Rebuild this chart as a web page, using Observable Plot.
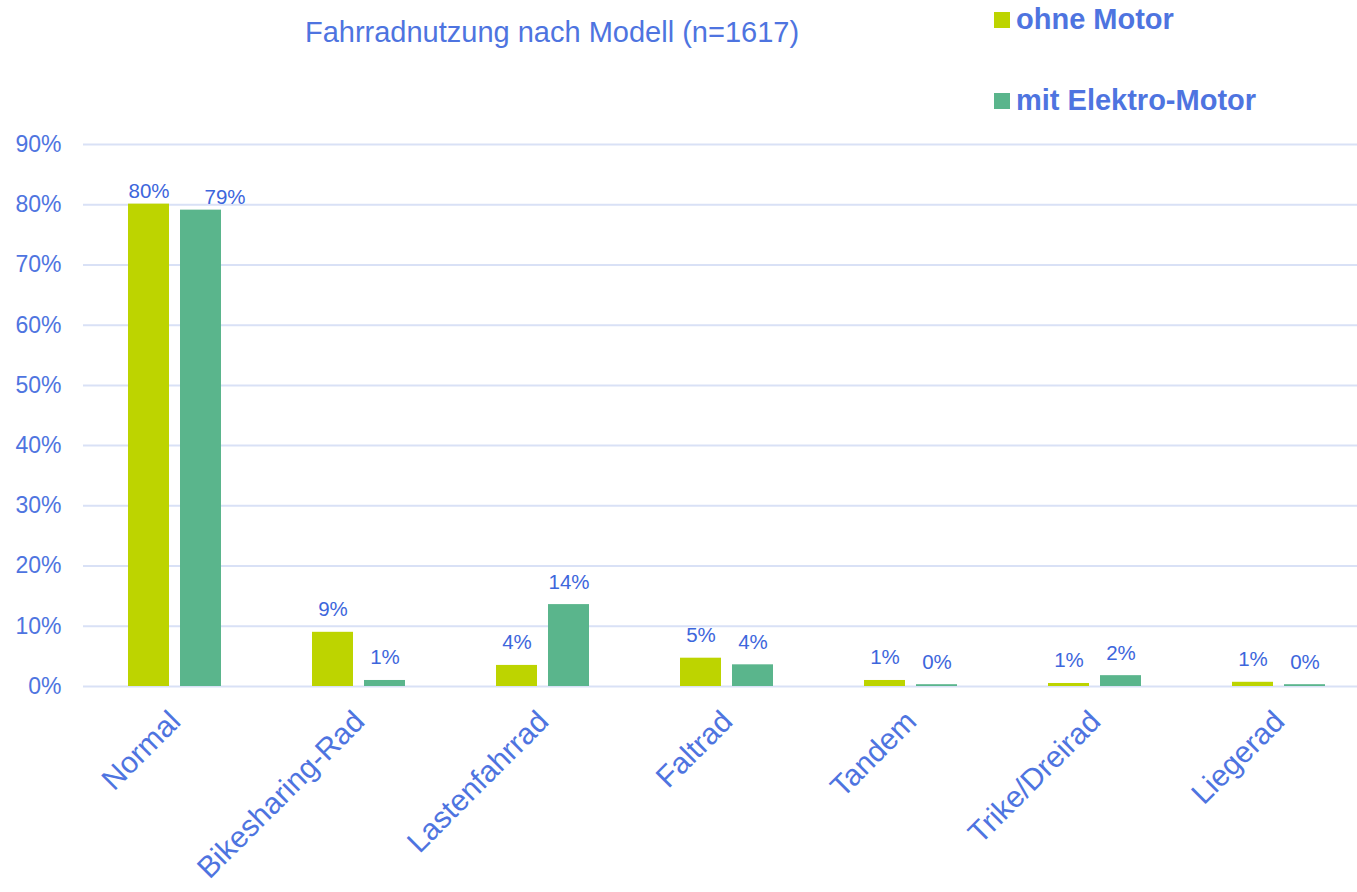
<!DOCTYPE html>
<html><head><meta charset="utf-8">
<script src="https://cdn.jsdelivr.net/npm/d3@7"></script>
<script src="https://cdn.jsdelivr.net/npm/@observablehq/plot@0.6"></script>
<style>
body{margin:0;overflow:hidden;background:#fff;font-family:"Liberation Sans",Arial,sans-serif;}
#wrap{position:relative;width:1357px;height:892px;overflow:hidden}
#title{position:absolute;top:18px;left:552px;transform:translateX(-50%);font-size:29px;line-height:1;color:#4e74e0;white-space:nowrap}
.leg{position:absolute;left:994px;font-weight:bold;font-size:29px;line-height:1;color:#4e74e0;white-space:nowrap;display:flex;align-items:center}
.sw{width:16px;height:16px;margin-right:6px}
#chart{position:absolute;left:0;top:0}
#chart svg{max-width:none !important}
</style>
</head><body>
<div id="wrap">
<div id="chart"></div>
<div id="title"></div>
<div id="legend"></div>
</div>
<script>
const title = "Fahrradnutzung nach Modell (n=1617)";
const categories = ["Normal","Bikesharing-Rad","Lastenfahrrad","Faltrad","Tandem","Trike/Dreirad","Liegerad"];
const seriesNames = ["ohne Motor","mit Elektro-Motor"];
const ohneMotor = [80.1, 9.0, 3.5, 4.7, 1.0, 0.5, 0.7];
const mitElektro = [79.1, 1.0, 13.6, 3.6, 0.3, 1.8, 0.3];
const colors = ["#BDD400","#5AB58C"];
const yTicks = [0,10,20,30,40,50,60,70,80,90];

const rows = [];
categories.forEach((c,i)=>{
  rows.push({cat:c, series:seriesNames[0], value:ohneMotor[i]});
  rows.push({cat:c, series:seriesNames[1], value:mitElektro[i]});
});

document.getElementById("title").textContent = title;
const leg = document.getElementById("legend");
const legTops = [5, 86];
seriesNames.forEach((s,i)=>{
  const d = document.createElement("div");
  d.className = "leg";
  d.style.top = legTops[i] + "px";
  const sw = document.createElement("span");
  sw.className = "sw"; sw.style.background = colors[i];
  const t = document.createElement("span"); t.textContent = s;
  d.appendChild(sw); d.appendChild(t);
  leg.appendChild(d);
});

const labelColor = "#3d66dc";
const fmt = d => Math.round(d.value) + "%";

const chart = Plot.plot({
  width: 1372, height: 892,
  marginTop: 144, marginBottom: 206, marginLeft: 82, marginRight: 0,
  style: {fontFamily: "Liberation Sans, Arial, sans-serif", background: "transparent", color: "#4e74e0", maxWidth: "none"},
  fx: {domain: categories, padding: 0, label: null},
  x: {domain: seriesNames, paddingInner: 0.2065, paddingOuter: 0.865, axis: null},
  y: {domain: [0, 90], label: null},
  color: {domain: seriesNames, range: colors},
  marks: [
    Plot.gridY(yTicks, {stroke: "#d9e1f6", strokeOpacity: 1, strokeWidth: 2}),
    Plot.axisY(yTicks, {tickSize: 0, tickPadding: 22, fontSize: 23, tickFormat: d => d + "%", label: null}),
    Plot.axisFx({anchor: "bottom", tickRotate: -45, fontSize: 30, tickSize: 0, tickPadding: 30, label: null}),
    Plot.barY(rows, {fx: "cat", x: "series", y: "value", fill: "series"}),
    Plot.text(rows, {filter: d => d.value < 50, fx: "cat", x: "series", y: "value", text: fmt, dy: -16, lineAnchor: "bottom", fontSize: 20.5, fill: labelColor}),
    Plot.text(rows, {filter: d => d.value >= 50 && d.series === seriesNames[0], fx: "cat", x: "series", y: "value", text: fmt, dy: -6, lineAnchor: "bottom", fontSize: 20.5, fill: labelColor}),
    Plot.text(rows, {filter: d => d.value >= 50 && d.series === seriesNames[1], fx: "cat", x: "series", y: "value", text: fmt, dy: -6, dx: 24, lineAnchor: "bottom", fontSize: 20.5, fill: labelColor})
  ]
});
document.getElementById("chart").appendChild(chart);
</script>
</body></html>
